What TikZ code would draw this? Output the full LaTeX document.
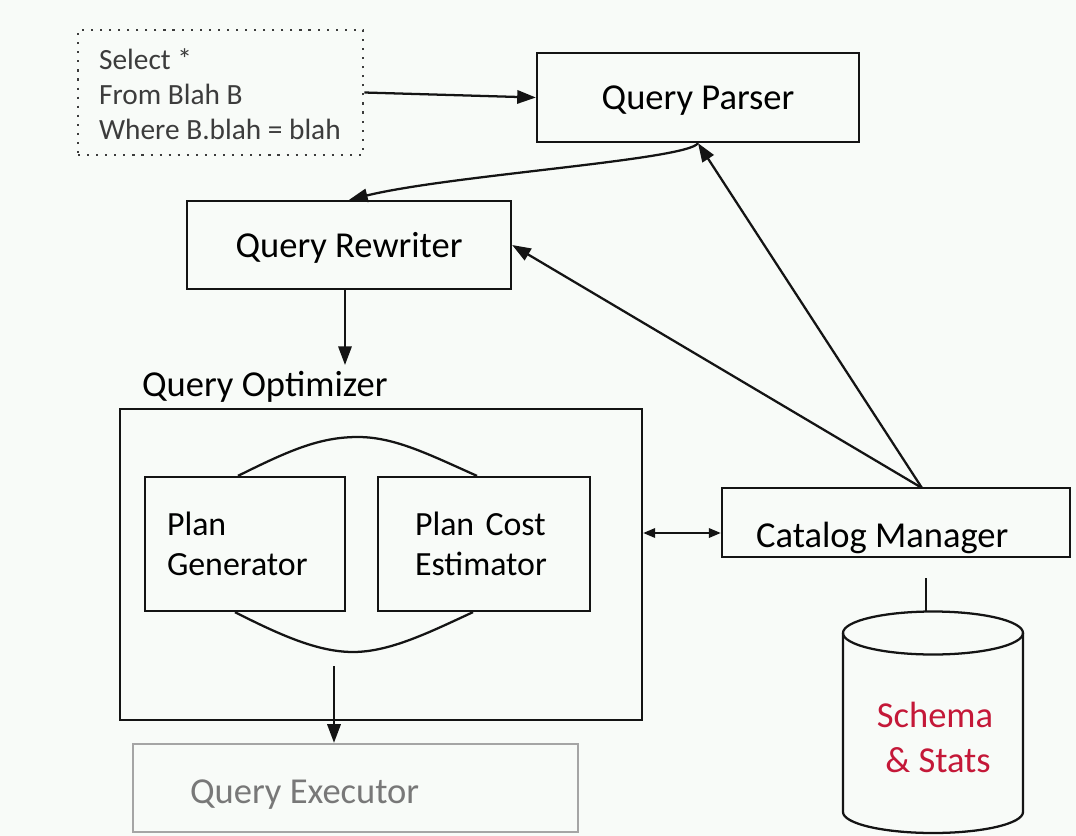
\documentclass[tikz,border=0pt]{standalone}
\usepackage{fontspec}
\setmainfont{Carlito}
\usetikzlibrary{arrows.meta,calc}
\definecolor{bg}{RGB}{248,251,248}
\definecolor{crim}{RGB}{196,24,56}
\definecolor{exgray}{RGB}{165,165,165}
\definecolor{extext}{RGB}{120,120,120}
\definecolor{sqltext}{RGB}{60,60,60}
\definecolor{linec}{RGB}{20,20,20}
\begin{document}
\begin{tikzpicture}[x=0.75pt,y=-0.75pt,line width=1.7pt,draw=linec,
  box/.style={draw=linec,rectangle,inner sep=0pt,line width=1.7pt},
  arr/.style={-{Triangle[length=14pt,width=10pt]}},
  dblarr/.style={{Triangle[length=9pt,width=7pt]}-{Triangle[length=9pt,width=7pt]}},
  big/.style={font=\fontsize{27.4}{33}\selectfont},
  mid/.style={font=\fontsize{25.4}{30.5}\selectfont,align=left},
  sqlfont/.style={font=\fontsize{22}{26.25}\selectfont,align=left,text=sqltext}]
\fill[bg] (0,0) rectangle (1076,836);
\useasboundingbox (0,0) rectangle (1076,836);

% SQL box
\node[box,draw=sqltext,line width=2pt,dash pattern=on 1.6pt off 5.2pt,
      minimum width=213.75pt,minimum height=93.75pt] (sql) at (220.5,92.5) {};
\node[sqlfont,anchor=west,inner sep=0pt] (sqltxt) at (98,94)
  {Select *\\From Blah B\\Where B.blah = blah};

% Query Parser
\node[box,big,text depth=0pt,minimum width=241.5pt,minimum height=66.75pt] (parser) at (698,97.5) {Query Parser};

% Query Rewriter
\node[box,big,text depth=0pt,minimum width=243pt,minimum height=66pt] (rewriter) at (349,245) {Query Rewriter};

% Query Optimizer
\node[big,anchor=west,inner sep=0pt] (optlbl) at (141,387) {Query Optimizer};
\node[box,minimum width=391.5pt,minimum height=233.25pt] (opt) at (381,564.5) {};
\node[box,mid,minimum height=100.5pt,inner xsep=16.5pt,text width=117pt] (pg) at (245,544) {Plan\\Generator};
\node[box,mid,minimum height=100.5pt,inner xsep=27.75pt,text width=103.5pt] (pc) at (484,544) {Plan Cost\\Estimator};

% Query Executor
\node[box,draw=exgray,minimum width=333.75pt,minimum height=66pt] (exec) at (355.5,788) {};
\node[big,anchor=west,inner sep=0pt,text=extext] (execlbl) at (189,795) {Query Executor};

% Catalog Manager
\node[box,minimum width=261pt,minimum height=51.75pt] (cat) at (896,522.5) {};
\node[big,anchor=west,inner sep=0pt] (catlbl) at (755,538) {Catalog Manager};

% Cylinder
\draw (933,633) ellipse [x radius=90, y radius=21.5];
\draw (843,633) -- (843,812) arc[start angle=180,end angle=0,x radius=90,y radius=21] -- (1023,633);
\node[big,align=center,text=crim,font=\fontsize{27.4}{33.75}\selectfont] (schema) at (935,737) {Schema\\\,\& Stats};
\coordinate (stubtop) at (926,578);
\coordinate (cyltop) at (926,612);
\draw (stubtop) -- (cyltop);

% Coordinates
\coordinate (apex) at (922,488);
\coordinate (optin) at (345,365);
\coordinate (optout) at (334,666);
\coordinate (dbl) at (0,533);
\coordinate (peak) at (358,437);
\coordinate (low) at (353,652);

% Connectors
\draw[arr] (sql.east) -- (parser.west);
\draw[arr] (parser.south) .. controls (688,160) and (450,175) .. (rewriter.north);
\draw[arr] (apex) -- (parser.south);
\draw[arr] (apex) -- (rewriter.east);
\draw[arr] (rewriter.south -| optin) -- (optin);
\draw[arr] (optout) -- (optout |- exec.north);
\draw[dblarr] (opt.east |- dbl) -- (cat.west |- dbl);

% Arcs between plan boxes
\draw ($(pg.north)+(-7,0)$) .. controls (290,450) and (320,437) .. (peak)
      .. controls (395,437) and (430,455) .. ($(pc.north)+(-7,0)$);
\draw ($(pg.south)+(-10,0)$) .. controls (280,635) and (318,652) .. (low)
      .. controls (390,652) and (430,632) .. ($(pc.south)+(-11,0)$);
\end{tikzpicture}
\end{document}
